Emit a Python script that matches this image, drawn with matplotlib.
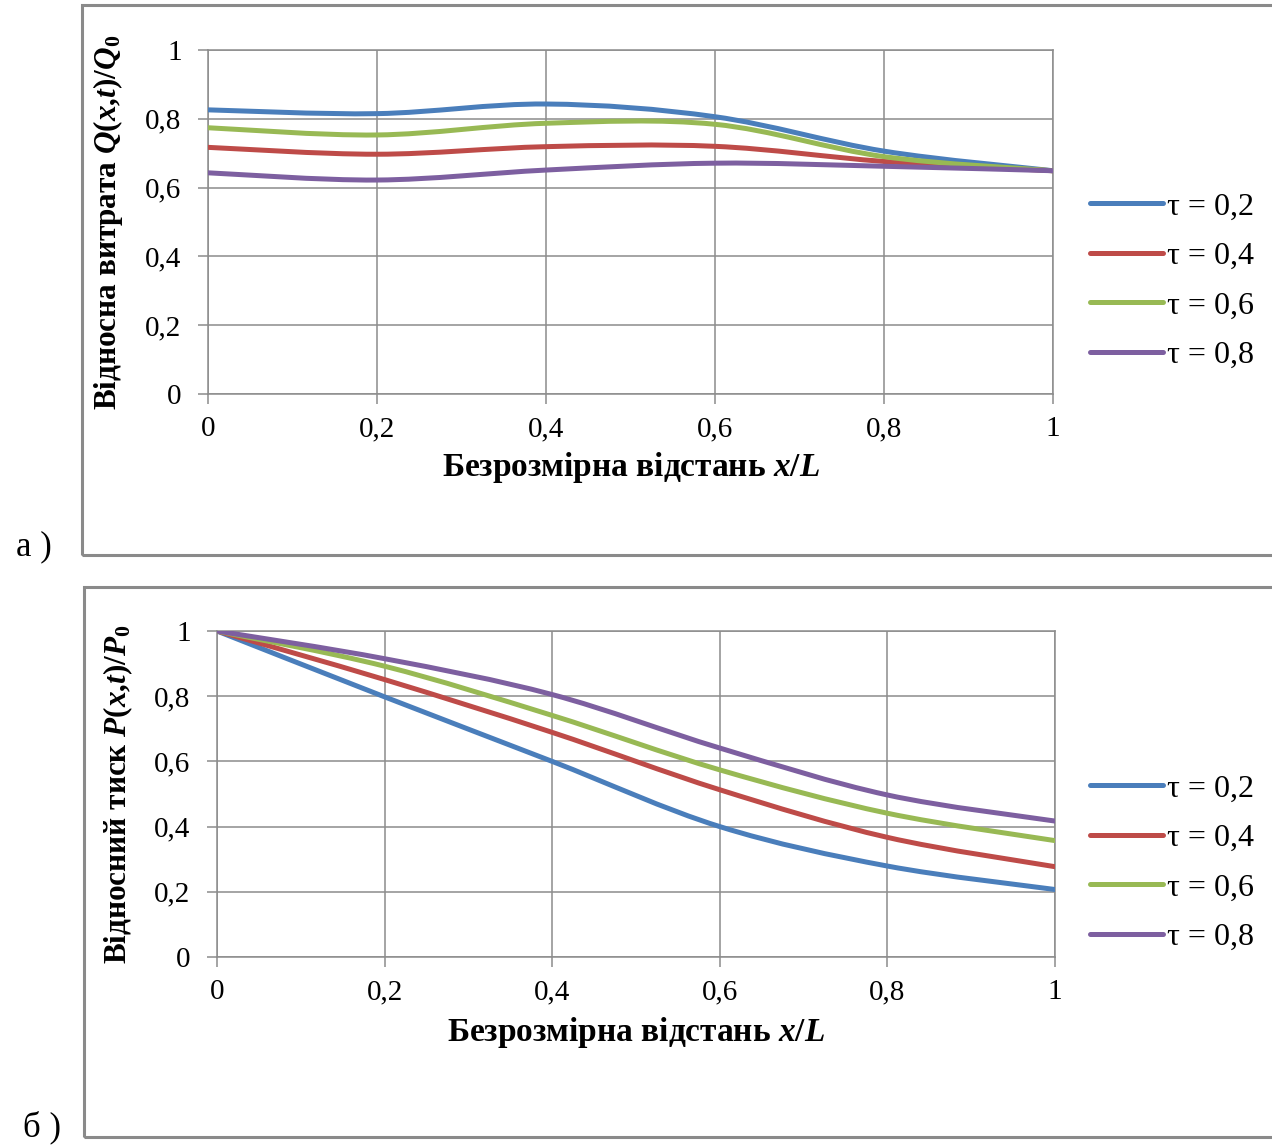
import numpy as np
import matplotlib
matplotlib.use("Agg")
import matplotlib.pyplot as plt
from matplotlib.path import Path
from matplotlib.patches import PathPatch, Rectangle
from matplotlib.lines import Line2D

plt.rcParams['font.family'] = ['Liberation Serif', 'DejaVu Serif']
plt.rcParams['mathtext.fontset'] = 'custom'
plt.rcParams['mathtext.rm'] = 'Liberation Serif:bold'
plt.rcParams['mathtext.it'] = 'Liberation Serif:italic:bold'
plt.rcParams['mathtext.bf'] = 'Liberation Serif:bold'

# ---------------- data ----------------
x_vals = [0.0, 0.2, 0.4, 0.6, 0.8, 1.0]
series_labels = ["τ = 0,2", "τ = 0,4", "τ = 0,6", "τ = 0,8"]
colors = ["#4A7EBB", "#BE4B48", "#98B954", "#7D5FA0"]

q_tau02 = [0.826, 0.815, 0.843, 0.806, 0.706, 0.649]
q_tau04 = [0.717, 0.697, 0.719, 0.720, 0.676, 0.649]
q_tau06 = [0.774, 0.753, 0.787, 0.784, 0.690, 0.649]
q_tau08 = [0.643, 0.622, 0.651, 0.671, 0.662, 0.649]

p_tau02 = [1.0, 0.798, 0.600, 0.400, 0.279, 0.207]
p_tau04 = [1.0, 0.851, 0.689, 0.513, 0.367, 0.277]
p_tau06 = [1.0, 0.892, 0.741, 0.574, 0.441, 0.357]
p_tau08 = [1.0, 0.915, 0.805, 0.641, 0.497, 0.417]

tick_vals = [0, 0.2, 0.4, 0.6, 0.8, 1]
tick_labels = ["0", "0,2", "0,4", "0,6", "0,8", "1"]

grid_c = "#8C8C8C"


def smooth_path(xs, ys):
    pts = np.column_stack([xs, ys])
    n = len(pts)
    verts = [pts[0]]
    codes = [Path.MOVETO]
    for i in range(n - 1):
        p0 = pts[i - 1] if i > 0 else pts[i]
        p1 = pts[i]
        p2 = pts[i + 1]
        p3 = pts[i + 2] if i + 2 < n else pts[i + 1]
        c1 = p1 + (p2 - p0) / 6.0
        c2 = p2 - (p3 - p1) / 6.0
        verts += [c1, c2, p2]
        codes += [Path.CURVE4] * 3
    return Path(verts, codes)


fig = plt.figure(figsize=(12.72, 11.46), dpi=100)
W, H = 1272.0, 1146.0

# panel borders
for (x0, y0, y1) in [(82, 5, 555), (84, 587, 1137)]:
    fig.patches.append(Rectangle((x0 / W, 1 - y1 / H), 2.0, (y1 - y0) / H,
                                 transform=fig.transFigure, fill=False,
                                 edgecolor="#8A8A8A", lw=2.2, zorder=0))


def make_axes(rect, series, ylabel, legend_y):
    ax = fig.add_axes(rect)
    for ys, c in zip(series, colors):
        ax.add_patch(PathPatch(smooth_path(x_vals, ys), fill=False,
                               edgecolor=c, lw=3.6, capstyle='round',
                               joinstyle='round', zorder=3))
    ax.set_xlim(0, 1)
    ax.set_ylim(0, 1)
    ax.set_xticks(tick_vals)
    ax.set_xticklabels(tick_labels)
    ax.set_yticks(tick_vals)
    ax.set_yticklabels(tick_labels)
    ax.grid(True, color=grid_c, lw=1.1)
    ax.set_axisbelow(True)
    for s in ax.spines.values():
        s.set_color(grid_c)
        s.set_linewidth(1.1)
    ax.tick_params(axis='both', colors=grid_c, labelcolor='black',
                   labelsize=21, length=7, width=1.1, direction='out')
    ax.tick_params(axis='y', pad=12)
    ax.tick_params(axis='x', pad=9)
    ax.set_xlabel("Безрозмірна відстань $x/L$", fontsize=24,
                  fontweight='bold', va='center', ha='center')
    ax.set_ylabel(ylabel, fontsize=22.5, fontweight='bold',
                  va='center', ha='center')
    handles = [Line2D([], [], color=c, lw=3.6, solid_capstyle='round')
               for c in colors]
    fig.legend(handles, series_labels, loc='center left',
               bbox_to_anchor=(1090 / W, legend_y), frameon=False,
               fontsize=23, handlelength=2.3, handletextpad=0.12,
               labelspacing=0.63, borderaxespad=0, borderpad=0)
    return ax


ax1 = make_axes([208 / W, 1 - 394 / H, 845 / W, 344 / H],
                [q_tau02, q_tau04, q_tau06, q_tau08],
                "Відносна витрата $Q(x{,}t)/Q_{\\mathit{0}}$",
                1 - 281 / H)
ax1.xaxis.set_label_coords(0.5, -0.215)
ax1.yaxis.set_label_coords(-0.118, 0.5)

ax2 = make_axes([217 / W, 1 - 957 / H, 838 / W, 326 / H],
                [p_tau02, p_tau04, p_tau06, p_tau08],
                "Відносний тиск $P(x{,}t)/P_{\\mathit{0}}$",
                1 - 863 / H)
ax2.xaxis.set_label_coords(0.5, -0.233)
ax2.yaxis.set_label_coords(-0.118, 0.5)

fig.text(34 / W, 1 - 547 / H, "а )", fontsize=25, ha='center', va='center')
fig.text(42 / W, 1 - 1127 / H, "б )", fontsize=25, ha='center', va='center')

fig.savefig("out.png", dpi=100, facecolor='white')
